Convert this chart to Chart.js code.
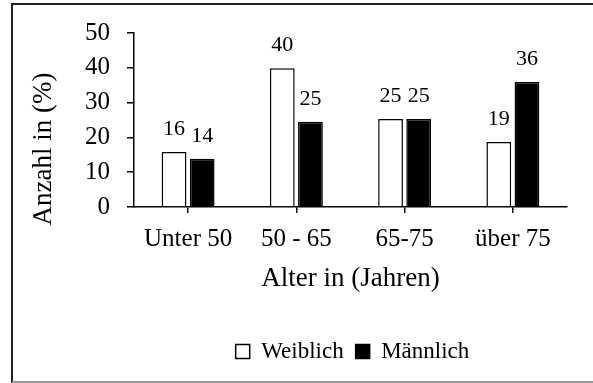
<!DOCTYPE html>
<html>
<head>
<meta charset="utf-8">
<script src="https://cdn.jsdelivr.net/npm/chart.js@4/dist/chart.umd.min.js"></script>
<style>
  html, body { margin: 0; padding: 0; background: #fff; }
  #wrap { position: relative; width: 593px; height: 383px; overflow: hidden; }
  #frame { position: absolute; left: 11px; top: 3px; width: 600px; height: 376px;
           border-left: 2px solid #222; border-top: 2px solid #222; border-bottom: 2px solid #999; }
  #chart { position: absolute; left: 0; top: 0; }
</style>
</head>
<body>
<div id="wrap">
  <div id="frame"></div>
  <canvas id="chart" width="593" height="383"></canvas>
</div>
<script>
// datos del gráfico
const categorias = ['Unter 50', '50 - 65', '65-75', 'über 75'];
const weiblich = [15.8, 39.9, 25.3, 18.7];
const maennlich = [13.9, 24.5, 25.3, 35.9];
const yTicks = [0, 10, 20, 30, 40, 50];
const tituloY = 'Anzahl in (%)';
const tituloX = 'Alter in (Jahren)';

const FONT = "'Liberation Serif', 'Times New Roman', serif";

// etiquetas encima de cada barra + título del eje Y (desplazado hacia abajo como en el original)
const etiquetas = {
    id: 'etiquetas',
    afterDatasetsDraw(chart) {
        const ctx = chart.ctx;
        ctx.save();
        ctx.font = '22px ' + FONT;
        ctx.fillStyle = '#000';
        ctx.textAlign = 'center';
        ctx.textBaseline = 'alphabetic';
        chart.data.datasets.forEach((ds, i) => {
            chart.getDatasetMeta(i).data.forEach((bar, j) => {
                ctx.fillText(Math.round(ds.data[j]), bar.x, bar.y - 17);
            });
        });
        ctx.restore();
    },
    afterDraw(chart) {
        const ctx = chart.ctx;
        const area = chart.chartArea;
        ctx.save();
        ctx.font = '27px ' + FONT;
        ctx.fillStyle = '#000';
        ctx.textAlign = 'center';
        ctx.textBaseline = 'middle';
        ctx.translate(44, area.bottom - 58);
        ctx.rotate(-Math.PI / 2);
        ctx.fillText(tituloY, 0, 0);
        ctx.restore();
    },
    // la leyenda va centrada bajo el área del gráfico, algo a la derecha
    afterLayout(chart) {
        if (chart.legend) chart.legend.left += 110;
    }
};

new Chart(document.getElementById('chart'), {
    type: 'bar',
    data: {
        labels: categorias,
        datasets: [
            { label: 'Weiblich', data: weiblich, backgroundColor: '#fff', borderColor: '#000', borderWidth: 1.5 },
            { label: 'Männlich', data: maennlich, backgroundColor: '#000', borderColor: '#000', borderWidth: 1.5 }
        ]
    },
    options: {
        responsive: false,
        animation: false,
        devicePixelRatio: 1,
        categoryPercentage: 0.52,
        barPercentage: 0.88,
        layout: { padding: { left: 28, right: 26, top: 33, bottom: 10 } },
        plugins: {
            tooltip: { enabled: false },
            legend: {
                position: 'bottom',
                labels: {
                    color: '#000',
                    font: { family: FONT, size: 23 },
                    boxWidth: 14,
                    boxHeight: 14,
                    padding: 12,
                    generateLabels(chart) {
                        return chart.data.datasets.map((ds, i) => ({
                            text: ds.label,
                            fillStyle: ds.backgroundColor,
                            strokeStyle: '#000',
                            lineWidth: 1.5,
                            datasetIndex: i,
                            fontColor: '#000'
                        }));
                    }
                }
            }
        },
        scales: {
            x: {
                offset: true,
                grid: { display: true, drawOnChartArea: false, offset: false, tickLength: 6, color: '#000', lineWidth: 1.5 },
                border: { display: true, color: '#000', width: 1.5 },
                ticks: { color: '#000', font: { family: FONT, size: 25 }, padding: 11, maxRotation: 0 },
                title: { display: true, text: tituloX, color: '#000', font: { family: FONT, size: 27, lineHeight: 1 }, padding: { top: 0, bottom: 36 } }
            },
            y: {
                min: 0,
                max: 50,
                afterBuildTicks(scale) { scale.ticks = yTicks.map(v => ({ value: v })); },
                afterFit(scale) { scale.width = 106; },
                grid: { display: true, drawOnChartArea: false, tickLength: 7, color: '#000', lineWidth: 1.5 },
                border: { display: true, color: '#000', width: 1.5 },
                ticks: { color: '#000', font: { family: FONT, size: 25 }, padding: 17 },
                title: { display: false }
            }
        }
    },
    plugins: [etiquetas]
});
</script>
</body>
</html>
